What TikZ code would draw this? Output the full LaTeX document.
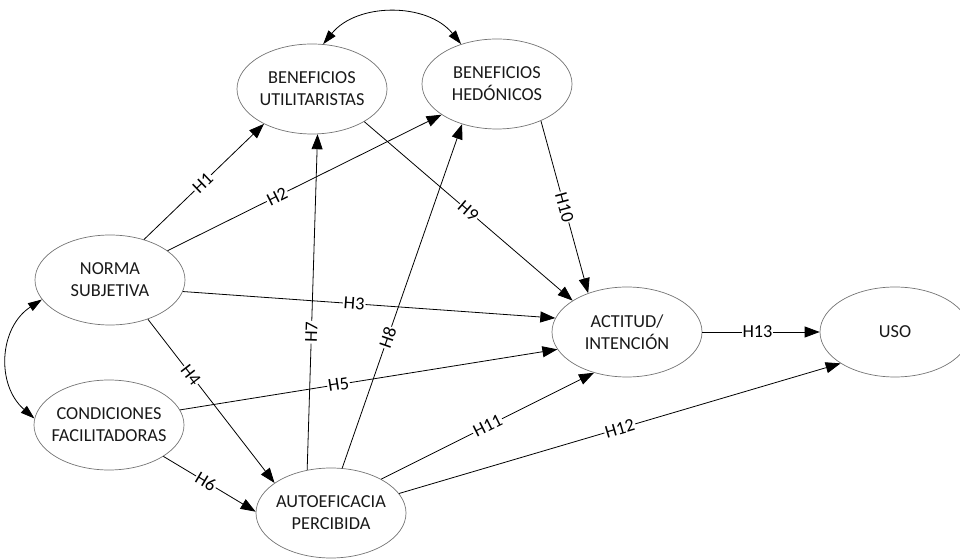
\documentclass[tikz,border=0pt]{standalone}
\usepackage{fontspec}
\setmainfont{Carlito}
\usetikzlibrary{shapes.geometric,arrows.meta}

\begin{document}
\begin{tikzpicture}[x=1pt,y=1pt,
  var/.style={ellipse, draw=black!55, line width=0.7pt,
              minimum width=150pt, minimum height=90pt, inner sep=0pt},
  vtext/.style={align=center, inner sep=0pt,
                font=\fontsize{18.3}{22}\selectfont, text=black!90},
  link/.style={line width=0.8pt, -{Triangle[length=15pt,width=11pt]}},
  corr/.style={line width=0.8pt,
               {Triangle[length=14pt,width=9pt]}-{Triangle[length=14pt,width=9pt]}},
  hyp/.style={sloped, fill=white, inner sep=1pt,
              font=\fontsize{18.3}{22}\selectfont, text=black}
]
\useasboundingbox (0,0) rectangle (960,559);
\clip (0,0) rectangle (960,559);

% constructs
\node[var] (bu)  at (312,470) {};
\node[var] (bh)  at (497,475) {};
\node[var] (ns)  at (110,279) {};
\node[var] (cf)  at (109,134) {};
\node[var] (ae)  at (331,46)  {};
\node[var] (ai)  at (627,227) {};
\node[var] (uso) at (895,227) {};

\node[vtext] (bu-t)  at (bu)  {BENEFICIOS\\UTILITARISTAS};
\node[vtext] (bh-t)  at (bh)  {BENEFICIOS\\HEDÓNICOS};
\node[vtext] (ns-t)  at (ns)  {NORMA\\SUBJETIVA};
\node[vtext] (cf-t)  at (cf)  {CONDICIONES\\FACILITADORAS};
\node[vtext] (ae-t)  at (ae)  {AUTOEFICACIA\\PERCIBIDA};
\node[vtext] (ai-t)  at (ai)  {ACTITUD/\\INTENCIÓN};
\node[vtext] (uso-t) at (uso) {USO};

% correlations
\draw[corr] (bu.76.5) to[out=51,in=129] (bh.132);
\draw[corr] (ns.196.6) to[out=213,in=139,looseness=1.1] (cf.175);

% hypotheses
\draw[link] (ns.50)   -- node[hyp,pos=0.49] {H1}  (bu.216);
\draw[link] (ns.27)   -- node[hyp,pos=0.40] {H2}  (bh.209);
\draw[link] (ns.-9)   -- node[hyp,pos=0.46] {H3}  (ai.169);
\draw[link] (ns.-46)  -- node[hyp,pos=0.34] {H4}  (ae.152);
\draw[link] (cf.12)   -- node[hyp,pos=0.42] {H5}  (ai.194.6);
\draw[link] (cf.-30.6)-- node[hyp,pos=0.46] {H6}  (ae.179);
\draw[link] (ae.119)  -- node[hyp,pos=0.41] {H7}  (bu.-83);
\draw[link] (ae.76)   -- node[hyp,pos=0.38] {H8}  (bh.229.5);
\draw[link] (bu.-32)  -- node[hyp,pos=0.50] {H9}  (ai.150.7);
\draw[link] (bh.-40)  -- node[hyp,pos=0.50] {H10} (ai.135);
\draw[link] (ae.34)   -- node[hyp,pos=0.50] {H11} (ai.231.7);
\draw[link] (ae.16)   -- node[hyp,pos=0.50] {H12} (uso.210);
\draw[link] (ai.east) -- node[hyp,pos=0.47] {H13} (uso.west);
\end{tikzpicture}
\end{document}
